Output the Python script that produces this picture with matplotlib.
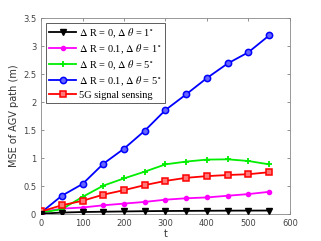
import matplotlib
matplotlib.use("Agg")
import matplotlib.pyplot as plt

t = [0, 50, 100, 150, 200, 250, 300, 350, 400, 450, 500, 550]
mse_r0_t1 = [0.01, 0.03, 0.04, 0.045, 0.05, 0.055, 0.058, 0.06, 0.062, 0.064, 0.065, 0.066]
mse_r01_t1 = [0.04, 0.10, 0.12, 0.16, 0.19, 0.22, 0.26, 0.285, 0.30, 0.33, 0.36, 0.40]
mse_r0_t5 = [0.03, 0.09, 0.31, 0.51, 0.64, 0.76, 0.89, 0.94, 0.975, 0.98, 0.95, 0.89]
mse_r01_t5 = [0.03, 0.33, 0.54, 0.90, 1.17, 1.49, 1.86, 2.14, 2.43, 2.69, 2.89, 3.19]
mse_5g = [0.05, 0.16, 0.24, 0.35, 0.43, 0.52, 0.595, 0.65, 0.68, 0.70, 0.714, 0.75]

labels = [r"$\Delta$ R = 0, $\Delta$ $\theta$ = 1$^\circ$",
          r"$\Delta$ R = 0.1, $\Delta$ $\theta$ = 1$^\circ$",
          r"$\Delta$ R = 0, $\Delta$ $\theta$ = 5$^\circ$",
          r"$\Delta$ R = 0.1, $\Delta$ $\theta$ = 5$^\circ$",
          "5G signal sensing"]

plt.rcParams['mathtext.fontset'] = 'stix'

fig = plt.figure(figsize=(3.21, 2.41), dpi=100)
ax = fig.add_axes([0.128, 0.111, 0.775, 0.814])

lw = 1.3
ax.plot(t, mse_r0_t1, color='black', lw=lw, marker='v', ms=4.5, mfc='black', label=labels[0], zorder=5)
ax.plot(t, mse_r01_t1, color='#ff00ff', lw=lw, marker='o', ms=3, mfc='#ff00ff', label=labels[1], zorder=3)
ax.plot(t, mse_r0_t5, color='#00ee00', lw=lw, marker='+', ms=4.5, mew=1.3, label=labels[2], zorder=3)
ax.plot(t, mse_r01_t5, color='#0000ff', lw=lw, marker='o', ms=4.5, mfc='#6666ff', mew=1.1, label=labels[3], zorder=4)
ax.plot(t, mse_5g, color='#ff0000', lw=lw, marker='s', ms=4, mfc='#ff7777', mew=1.1, label=labels[4], zorder=4)

ax.set_xlim(0, 600)
ax.set_ylim(0, 3.5)
ax.set_xticks([0, 100, 200, 300, 400, 500, 600])
ax.set_yticks([0, 0.5, 1, 1.5, 2, 2.5, 3, 3.5])
ax.set_yticklabels(['0', '0.5', '1', '1.5', '2', '2.5', '3', '3.5'])
ax.tick_params(direction='in', top=True, right=True, labelsize=6, length=2.5,
               width=0.5, colors='#666666', labelcolor='#444444')
for s in ax.spines.values():
    s.set_color('#888888')
    s.set_linewidth(0.6)
ax.set_xlabel('t', fontsize=7, color='#333333', labelpad=1)
ax.set_ylabel('MSE of AGV path (m)', fontsize=7, color='#333333', labelpad=3)

leg = ax.legend(loc='upper left', bbox_to_anchor=(0.02, 0.975), prop={'family': 'Liberation Serif', 'size': 7.5},
                handlelength=2.6, handletextpad=0.3, labelspacing=0.25, borderpad=0.3,
                borderaxespad=0.0, fancybox=False, framealpha=1)
leg.get_frame().set_edgecolor('#444444')
leg.get_frame().set_linewidth(0.6)

fig.savefig('out.png', dpi=100)
